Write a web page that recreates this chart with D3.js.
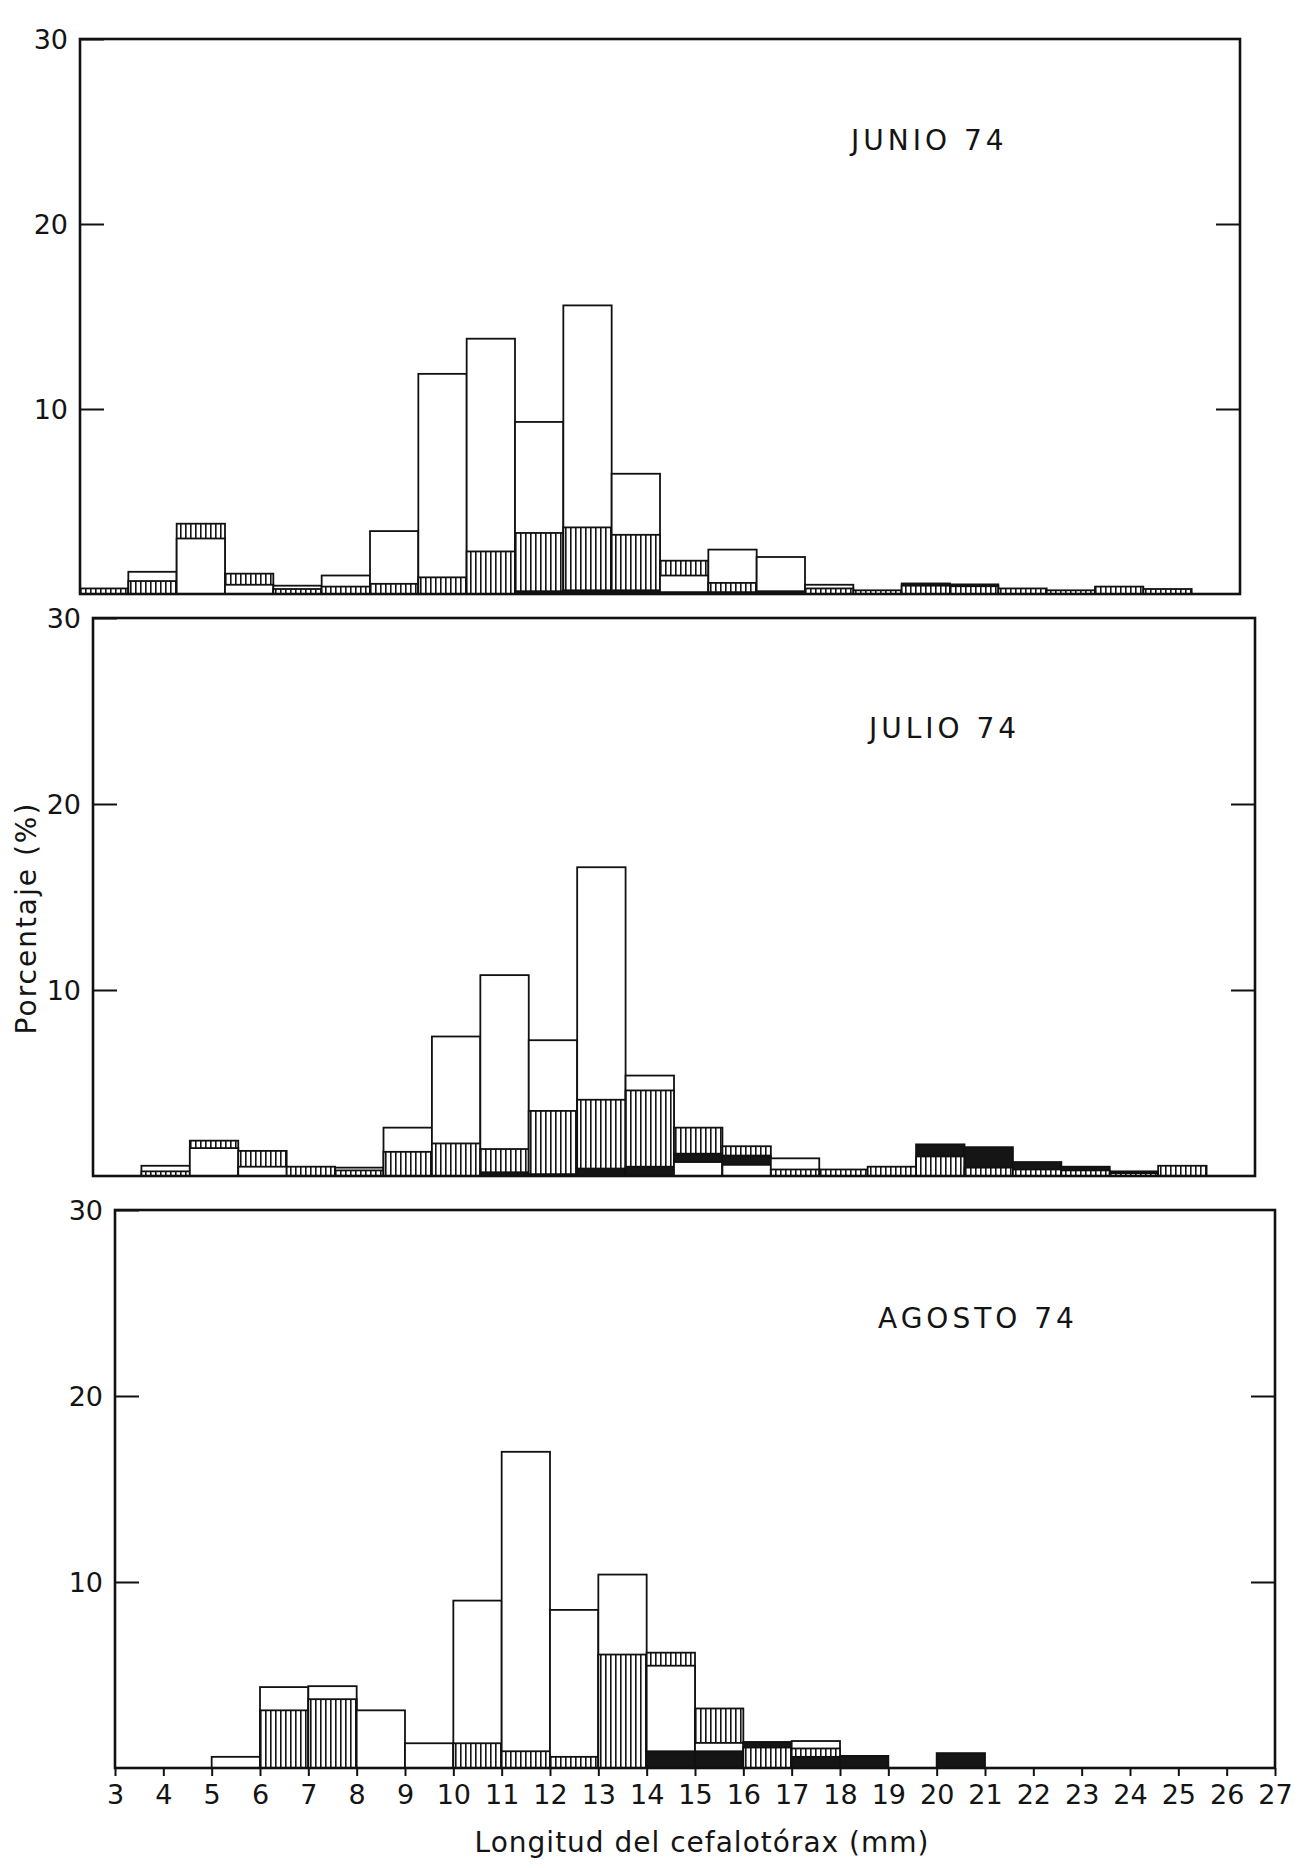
<!DOCTYPE html>
<html>
<head>
<meta charset="utf-8">
<script src="https://cdn.jsdelivr.net/npm/d3@7"></script>
<style>
    body { margin: 0; background: #fff; }
    svg text { font-family: "DejaVu Sans", sans-serif; fill: #141414; }
</style>
</head>
<body>
<div id="chart"></div>
<script>
// bin starts (mm), each bin is [start, start + 1]
const binStarts = [3, 4, 5, 6, 7, 8, 9, 10, 11, 12, 13, 14, 15, 16, 17, 18, 19, 20, 21, 22, 23, 24, 25];
const xTickLabels = [3, 4, 5, 6, 7, 8, 9, 10, 11, 12, 13, 14, 15, 16, 17, 18, 19, 20, 21, 22, 23, 24, 25, 26, 27];
const yTickValues = [10, 20, 30];
const monthLabels = ["JUNIO 74", "JULIO 74", "AGOSTO 74"];

// percentages per bin: open bars, hatched bars, solid black bars
const junioOpen = [0, 1.2, 3.0, 0.5, 0.45, 1.0, 3.4, 11.9, 13.8, 9.3, 15.6, 6.5, 1.0, 2.4, 2.0, 0.5, 0, 0, 0, 0, 0, 0, 0];
const junioHatched = [0.3, 0.7, 3.8, 1.1, 0.27, 0.4, 0.55, 0.9, 2.3, 3.3, 3.6, 3.2, 1.8, 0.6, 0, 0.3, 0.2, 0.45, 0.42, 0.3, 0.2, 0.4, 0.27];
const junioBlack = [0, 0, 0, 0, 0, 0, 0, 0, 0, 0.15, 0.2, 0.2, 0.1, 0.1, 0.15, 0, 0, 0.57, 0.52, 0, 0, 0, 0];

const julioOpen = [0, 0.55, 1.5, 0.5, 0, 0.45, 2.6, 7.5, 10.8, 7.3, 16.6, 5.4, 0.75, 0.6, 0.95, 0, 0, 0, 0, 0, 0, 0, 0];
const julioHatched = [0, 0.25, 1.9, 1.35, 0.5, 0.3, 1.3, 1.75, 1.45, 3.5, 4.1, 4.6, 2.6, 1.6, 0.35, 0.35, 0.5, 1.05, 0.45, 0.35, 0.3, 0.15, 0.55];
const julioBlack = [0, 0, 0, 0, 0, 0, 0, 0, 0.2, 0.1, 0.4, 0.5, 1.2, 1.1, 0, 0, 0, 1.7, 1.55, 0.75, 0.5, 0.25, 0];

const agostoOpen = [0, 0, 0.6, 4.35, 4.4, 3.1, 1.33, 9.0, 17.0, 8.5, 10.4, 5.5, 1.35, 0, 1.45, 0, 0, 0, 0, 0, 0, 0, 0];
const agostoHatched = [0, 0, 0, 3.1, 3.7, 0, 0, 1.33, 0.9, 0.6, 6.1, 6.2, 3.2, 1.1, 1.05, 0, 0, 0, 0, 0, 0, 0, 0];
const agostoBlack = [0, 0, 0, 0, 0, 0, 0, 0, 0, 0, 0, 0.9, 0.9, 1.4, 0.6, 0.65, 0, 0.8, 0, 0, 0, 0, 0];

const width = 1298, height = 1868;

const panels = [
    {label: monthLabels[0], open: junioOpen, hatched: junioHatched, black: junioBlack,
        left: 80, right: 1240, top: 39, bottom: 594, titleX: 851, titleY: 150},
    {label: monthLabels[1], open: julioOpen, hatched: julioHatched, black: julioBlack,
        left: 93, right: 1255, top: 618, bottom: 1176, titleX: 869, titleY: 738},
    {label: monthLabels[2], open: agostoOpen, hatched: agostoHatched, black: agostoBlack,
        left: 115, right: 1275, top: 1210, bottom: 1768, titleX: 878, titleY: 1328, xAxis: true}
];

const fills = {open: "#fff", hatched: "url(#hatch)", black: "#151515"};

function prepareBins(p) {
    return binStarts.map((start, i) => {
        const values = [
            {kind: "hatched", v: p.hatched[i]},
            {kind: "open", v: p.open[i]},
            {kind: "black", v: p.black[i]}
        ].filter(d => d.v > 0);
        // overlapping histograms: tallest drawn first, shorter ones on top
        values.sort((a, b) => b.v - a.v);
        return {start, values};
    });
}

function showPanel(svg, p) {
    const x = d3.scaleLinear().domain([3, 27]).range([p.left, p.right]);
    const y = d3.scaleLinear().domain([0, 30]).range([p.bottom, p.top]);
    const g = svg.append("g");

    const slice = g.selectAll(".slice")
        .data(prepareBins(p))
        .enter().append("g")
        .attr("class", "slice");

    slice.selectAll("rect")
        .data(d => d.values.map(v => ({start: d.start, kind: v.kind, v: v.v})))
        .enter().append("rect")
        .attr("x", d => x(d.start))
        .attr("width", d => x(d.start + 1) - x(d.start))
        .attr("y", d => y(d.v))
        .attr("height", d => y(0) - y(d.v))
        .style("fill", d => fills[d.kind])
        .style("stroke", "#111")
        .style("stroke-width", 1.8);

    // frame
    g.append("rect")
        .attr("x", p.left).attr("y", p.top)
        .attr("width", p.right - p.left).attr("height", p.bottom - p.top)
        .style("fill", "none").style("stroke", "#111").style("stroke-width", 2.6);

    const yAxis = d3.axisLeft(y).tickValues(yTickValues).tickSize(-24).tickPadding(12);
    const ya = g.append("g").attr("transform", "translate(" + p.left + ",0)").call(yAxis);
    ya.select(".domain").remove();
    ya.selectAll("line").style("stroke", "#111").style("stroke-width", 2);
    ya.selectAll("text").style("font-size", "27px").attr("dy", "0.36em");

    const yRight = d3.axisRight(y).tickValues([10, 20]).tickSize(-24).tickFormat("");
    const yr = g.append("g").attr("transform", "translate(" + p.right + ",0)").call(yRight);
    yr.select(".domain").remove();
    yr.selectAll("line").style("stroke", "#111").style("stroke-width", 2);

    if (p.xAxis) {
        const xAxis = d3.axisBottom(x).tickValues(xTickLabels).tickSize(8).tickPadding(9).tickFormat(d3.format("d"));
        const xa = g.append("g").attr("transform", "translate(0," + p.bottom + ")").call(xAxis);
        xa.select(".domain").remove();
        xa.selectAll("line").style("stroke", "#111").style("stroke-width", 2);
        xa.selectAll("text").style("font-size", "27px");
    }

    g.append("text")
        .attr("x", p.titleX).attr("y", p.titleY)
        .style("font-size", "28px")
        .style("letter-spacing", "4px")
        .text(p.label);
}

function show() {
    const svg = d3.select("#chart").append("svg")
        .attr("width", width)
        .attr("height", height);

    const pat = svg.append("defs").append("pattern")
        .attr("id", "hatch")
        .attr("patternUnits", "userSpaceOnUse")
        .attr("width", 5).attr("height", 8);
    pat.append("rect").attr("width", 5).attr("height", 8).attr("fill", "#fff");
    pat.append("rect").attr("width", 1.6).attr("height", 8).attr("fill", "#151515");

    panels.forEach(p => showPanel(svg, p));

    svg.append("text")
        .attr("transform", "translate(36,918) rotate(-90)")
        .attr("text-anchor", "middle")
        .style("font-size", "28px")
        .style("letter-spacing", "2px")
        .text("Porcentaje (%)");

    svg.append("text")
        .attr("x", 702).attr("y", 1852)
        .attr("text-anchor", "middle")
        .style("font-size", "28px")
        .style("letter-spacing", "1px")
        .text("Longitud del cefalotórax (mm)");
}

show();
</script>
</body>
</html>
